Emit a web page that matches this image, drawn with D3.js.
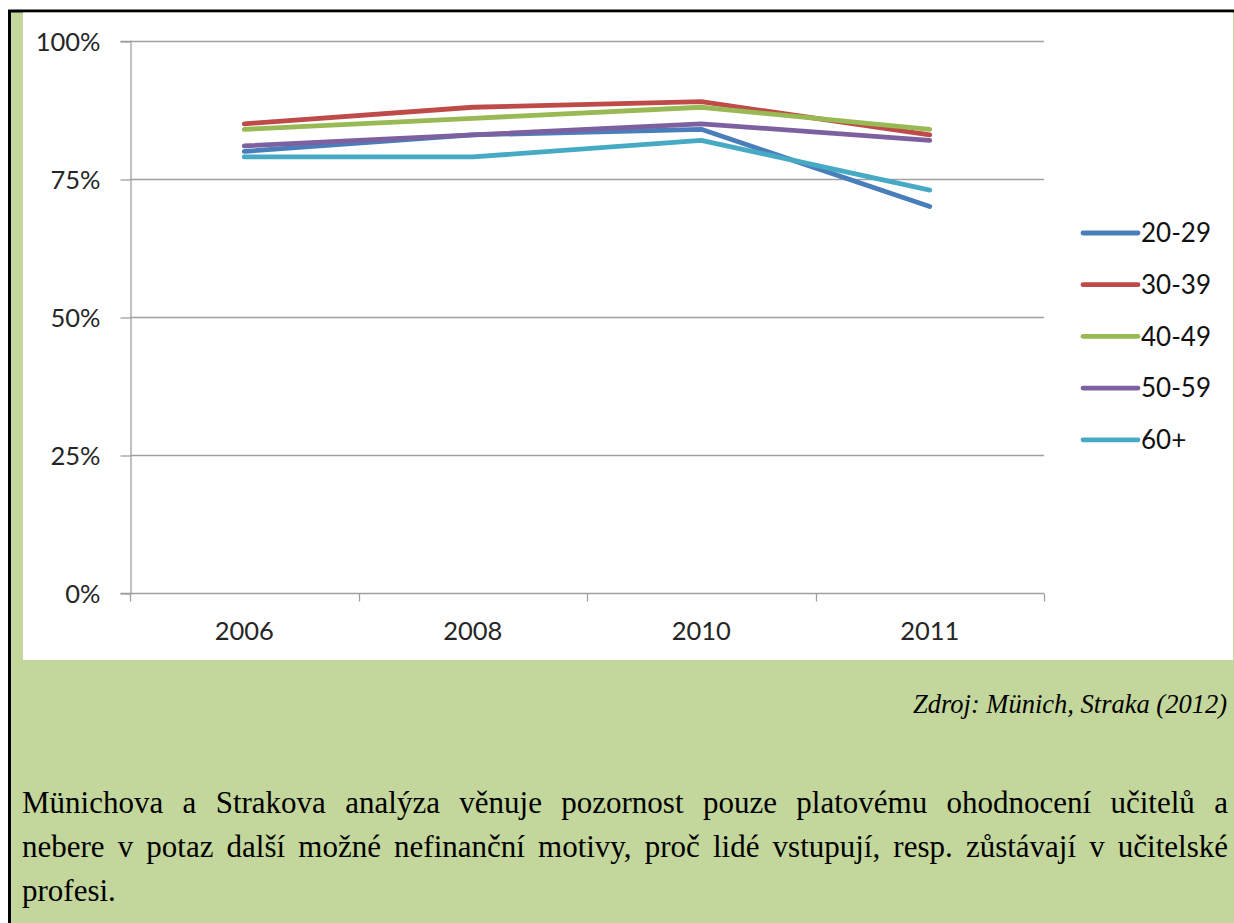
<!DOCTYPE html>
<html>
<head>
<meta charset="utf-8">
<script src="https://cdn.jsdelivr.net/npm/d3@7"></script>
<style>
  html, body { margin: 0; padding: 0; background: #fff; }
  svg { display: block; }
</style>
</head>
<body>
<svg id="chart" width="1234" height="923"></svg>
<script>
// Survey years (categories) and share of teachers per age group
const years = ["2006", "2008", "2010", "2011"];
const groups = ["20-29", "30-39", "40-49", "50-59", "60+"];
const values2029 = [0.80, 0.83, 0.84, 0.70];
const values3039 = [0.85, 0.88, 0.89, 0.83];
const values4049 = [0.84, 0.86, 0.88, 0.84];
const values5059 = [0.81, 0.83, 0.85, 0.82];
const values60 = [0.79, 0.79, 0.82, 0.73];
const colors = ["#4a7ebb", "#be4b48", "#98b954", "#7d60a0", "#46aac5"];
const yTicks = [0, 0.25, 0.5, 0.75, 1];

const sourceText = "Zdroj: Münich, Straka (2012)";
const paragraphLines = [
  "Münichova a Strakova analýza věnuje pozornost pouze platovému ohodnocení učitelů a",
  "nebere v potaz další možné nefinanční motivy, proč lidé vstupují, resp. zůstávají v učitelské",
  "profesi."
];

const series = groups.map((g, i) => ({
  name: g,
  color: colors[i],
  values: [values2029, values3039, values4049, values5059, values60][i]
}));

const svg = d3.select("#chart");
const W = 1234, H = 923;
const axisFont = "Lato, 'Open Sans', sans-serif";

// Page frame: green box with a black border
svg.append("rect").attr("x", 0).attr("y", 0).attr("width", W).attr("height", H).attr("fill", "#fff");
svg.append("rect")
  .attr("x", 9.5).attr("y", 11).attr("width", W + 20).attr("height", H + 20)
  .attr("fill", "#c3d69b").attr("stroke", "#000").attr("stroke-width", 3);

// White chart area
svg.append("rect")
  .attr("x", 23).attr("y", 12.5).attr("width", 1210).attr("height", 647.5)
  .attr("fill", "#fff");

// Scales
const x = d3.scaleBand().domain(years).range([130, 1044]).paddingInner(0).paddingOuter(0);
const y = d3.scaleLinear().domain([0, 1]).range([593, 41]);
const cx = d => x(d) + x.bandwidth() / 2;

const plot = svg.append("g");

// Horizontal gridlines
plot.append("g")
  .selectAll("line")
  .data(yTicks.filter(t => t > 0))
  .join("line")
  .attr("x1", x.range()[0]).attr("x2", x.range()[1])
  .attr("y1", d => Math.round(y(d)) + 0.5).attr("y2", d => Math.round(y(d)) + 0.5)
  .attr("stroke", "#a0a0a0").attr("stroke-width", 1.3);

// Y axis
const yAxis = plot.append("g")
  .attr("transform", `translate(${x.range()[0] + 0.5},0)`)
  .call(d3.axisLeft(y).tickValues(yTicks).tickFormat(d3.format(".0%")).tickSize(10).tickPadding(20));
yAxis.select(".domain").attr("stroke", "#a0a0a0").attr("stroke-width", 1.3);
yAxis.selectAll(".tick line").attr("stroke", "#a0a0a0").attr("stroke-width", 1.3)
  .attr("transform", "translate(0,0.5)");
yAxis.selectAll(".tick text")
  .attr("font-family", axisFont).attr("font-size", 25.5).attr("fill", "#262626")
  .attr("dy", "0.36em");

// X axis baseline with boundary ticks
const xAxis = plot.append("g").attr("transform", `translate(0,${Math.round(y(0)) + 0.5})`);
xAxis.append("line")
  .attr("x1", x.range()[0]).attr("x2", x.range()[1])
  .attr("stroke", "#a0a0a0").attr("stroke-width", 1.3);
xAxis.selectAll("line.bt")
  .data(years.map(d => x(d)).concat([x.range()[1]]))
  .join("line")
  .attr("class", "bt")
  .attr("x1", d => Math.round(d) + 0.5).attr("x2", d => Math.round(d) + 0.5)
  .attr("y1", 0).attr("y2", 8)
  .attr("stroke", "#a0a0a0").attr("stroke-width", 1.3);

// Category labels
const xLabels = plot.append("g")
  .attr("transform", `translate(0,${y(0)})`)
  .call(d3.axisBottom(x).tickSize(0).tickPadding(0));
xLabels.select(".domain").remove();
xLabels.selectAll(".tick text")
  .attr("font-family", axisFont).attr("font-size", 25.5).attr("fill", "#262626")
  .attr("y", 47).attr("dy", 0);

// Series lines
const line = d3.line()
  .x((d, i) => cx(years[i]))
  .y(d => y(d));

plot.append("g")
  .selectAll("path")
  .data(series)
  .join("path")
  .attr("d", s => line(s.values))
  .attr("fill", "none")
  .attr("stroke", s => s.color)
  .attr("stroke-width", 4.8)
  .attr("stroke-linejoin", "round")
  .attr("stroke-linecap", "round");

// Legend
const legend = svg.append("g").attr("transform", "translate(1083,233)");
const item = legend.selectAll("g")
  .data(series)
  .join("g")
  .attr("transform", (d, i) => `translate(0,${i * 51.7})`);
item.append("line")
  .attr("x1", 0).attr("x2", 55).attr("y1", 0).attr("y2", 0)
  .attr("stroke", d => d.color).attr("stroke-width", 4.8).attr("stroke-linecap", "round");
item.append("text")
  .attr("x", 58).attr("y", 0).attr("dy", "0.36em")
  .attr("font-family", axisFont).attr("font-size", 26).attr("fill", "#111")
  .text(d => d.name);

// Source note
svg.append("text")
  .attr("x", 1227).attr("y", 713)
  .attr("text-anchor", "end")
  .attr("font-family", "'Liberation Serif', 'Times New Roman', serif")
  .attr("font-style", "italic").attr("font-size", 26.5).attr("fill", "#000")
  .text(sourceText);

// Justified paragraph below the figure
const para = svg.append("g")
  .attr("font-family", "'Liberation Serif', 'Times New Roman', serif")
  .attr("font-size", 31).attr("fill", "#000");
const left = 22, right = 1228, baselines = [813, 857, 901];
paragraphLines.forEach((ln, li) => {
  const words = ln.split(" ");
  const nodes = words.map(w => para.append("text").attr("y", baselines[li]).text(w));
  const widths = nodes.map(n => n.node().getComputedTextLength());
  const justify = li < paragraphLines.length - 1 && words.length > 1;
  const spaceW = 7.5;
  const gap = justify ? (right - left - d3.sum(widths)) / (words.length - 1) : spaceW;
  let xPos = left;
  nodes.forEach((n, i) => { n.attr("x", xPos); xPos += widths[i] + gap; });
});
</script>
</body>
</html>
